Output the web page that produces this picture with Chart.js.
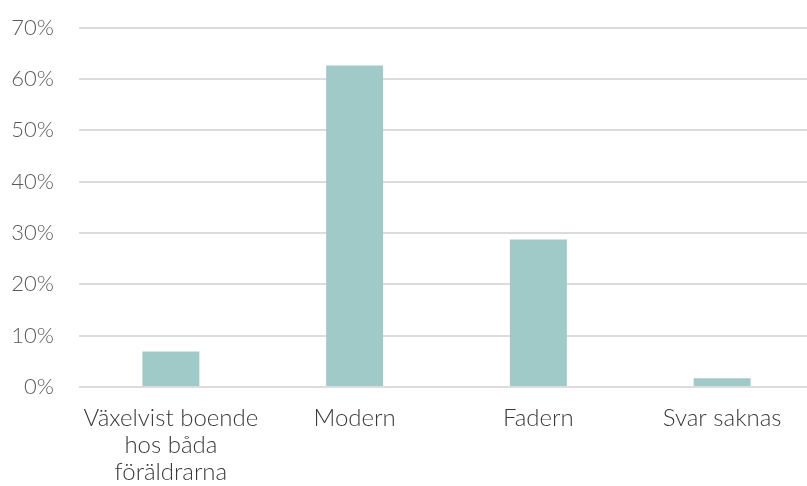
<!DOCTYPE html>
<html>
<head>
<meta charset="utf-8">
<script src="https://cdn.jsdelivr.net/npm/chart.js@4/dist/chart.umd.min.js"></script>
<style>
  html, body { margin: 0; padding: 0; background: #fff; overflow: hidden; }
  #wrap { width: 814px; height: 486px; }
</style>
</head>
<body>
<div id="wrap"><canvas id="myChart"></canvas></div>
<script>
    // data
    const categories = [['Växelvist boende', 'hos båda', 'föräldrarna'], 'Modern', 'Fadern', 'Svar saknas'];
    const shares = [6.9, 62.6, 28.7, 1.7];
    const yTicks = [0, 10, 20, 30, 40, 50, 60, 70];

    const family = 'Lato, "Open Sans", sans-serif';

    const canvas = document.getElementById('myChart');
    const myChart = new Chart(canvas, {
        type: 'bar',
        data: {
            labels: categories,
            datasets: [{
                data: shares,
                backgroundColor: '#a0cac8',
                categoryPercentage: 1,
                barPercentage: 0.31
            }]
        },
        options: {
            responsive: true,
            maintainAspectRatio: false,
            animation: false,
            layout: { padding: { top: 27.5, right: 0, bottom: 0, left: 0 } },
            plugins: { legend: { display: false }, tooltip: { enabled: false } },
            scales: {
                x: {
                    grid: { display: false },
                    border: { display: false },
                    ticks: {
                        color: '#3a3a3a',
                        font: { family: family, size: 24, weight: 300, lineHeight: 1.125 },
                        padding: 10,
                        maxRotation: 0,
                        autoSkip: false
                    },
                    afterFit: s => { s.height = 99; }
                },
                y: {
                    min: yTicks[0],
                    max: yTicks[yTicks.length - 1],
                    afterBuildTicks: s => { s.ticks = yTicks.map(v => ({ value: v })); },
                    grid: { color: '#dcdcdc', lineWidth: 2, drawTicks: false },
                    border: { display: false },
                    ticks: {
                        color: '#5a5a5a',
                        font: { family: family, size: 22, weight: 300 },
                        padding: 25,
                        callback: v => v + '%'
                    },
                    // fixed axis width, and no extra room above the top tick
                    afterFit: s => { s.width = 79; s.paddingTop = 0; }
                }
            }
        }
    });
</script>
</body>
</html>
